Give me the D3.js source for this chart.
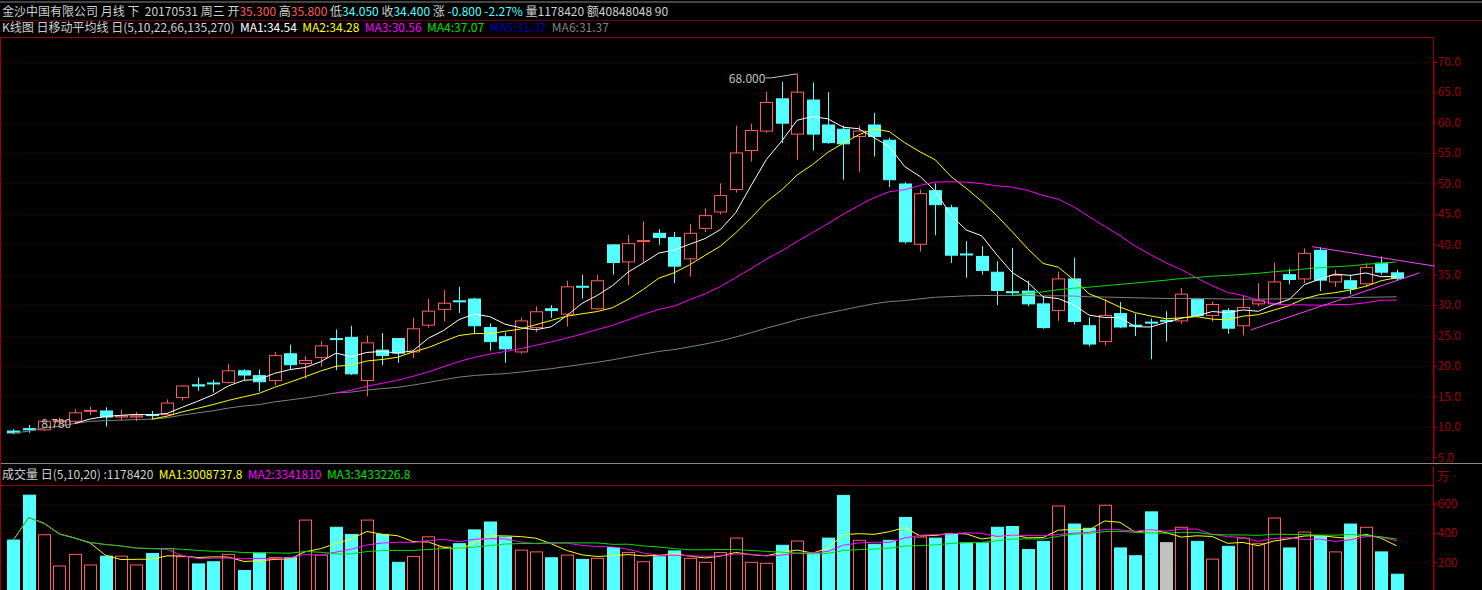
<!DOCTYPE html>
<html lang="zh">
<head>
<meta charset="utf-8">
<title>金沙中国有限公司 月线</title>
<script src="https://d3js.org/d3.v7.min.js"></script>
<style>
  body { margin: 0; background: #000; }
  text { font-family: "Noto Sans CJK SC", "DejaVu Sans", sans-serif; font-size: 12px; }
</style>
</head>
<body>
<script>
// monthly bars: open, high, low, close (HKD)
var opens  = [9.3,9.7,9.5,10.9,10.9,12.6,12.6,11.6,11.6,12.0,12.0,14.8,16.9,17.2,17.3,19.2,18.4,17.6,22.0,20.4,21.4,24.5,24.7,17.6,22.6,24.5,22.3,26.7,29.3,30.7,31.0,
              26.3,24.8,22.3,26.3,29.4,28.5,33.1,29.4,39.9,37.1,40.5,41.8,41.1,37.6,42.6,45.3,49.0,55.4,58.6,63.9,58.1,63.7,59.6,58.9,57.7,59.6,57.1,49.9,40.0,48.8,46.0,
              38.4,38.0,35.4,32.2,32.3,30.2,29.1,34.3,26.6,24.0,28.6,26.7,27.2,27.5,27.4,30.9,28.3,29.1,26.6,30.2,30.2,35.0,34.3,39.0,33.8,34.0,33.5,36.9,35.3];
var highs  = [9.6,10.3,11.2,11.5,12.9,13.3,13.2,12.8,12.4,12.6,14.5,16.8,18.1,17.7,20.3,19.5,19.4,22.3,23.5,21.6,24.1,26.0,26.6,25.0,25.4,24.6,27.9,31.0,32.5,33.0,31.2,
              27.0,25.5,28.0,29.8,30.0,34.0,35.0,35.0,40.0,41.5,43.8,42.5,42.0,43.3,45.9,50.0,59.5,59.8,65.0,66.7,68.0,66.6,65.0,59.5,59.5,61.6,57.5,50.2,49.0,50.0,46.5,
              40.5,39.7,37.2,39.4,34.0,31.5,35.5,37.8,28.0,31.0,30.5,28.6,27.8,29.0,32.8,31.2,30.6,29.5,31.5,33.6,37.0,36.0,39.3,39.5,35.8,35.0,36.9,38.0,35.8];
var lows   = [8.78,9.0,9.3,10.5,10.6,11.9,10.0,11.0,10.9,11.2,11.9,14.3,15.9,15.6,17.1,17.7,15.8,16.8,19.4,17.9,19.9,19.3,18.5,15.0,20.1,20.5,21.3,26.3,27.3,28.7,25.2,
              22.5,20.5,22.0,25.5,27.9,26.5,31.1,29.2,35.0,33.3,36.9,39.9,33.6,34.7,42.0,44.9,48.5,53.6,58.3,56.6,53.9,55.4,56.5,50.6,51.9,54.4,49.4,40.1,38.8,41.5,36.9,
              34.5,35.0,30.0,31.5,29.8,26.1,27.4,26.8,23.2,23.4,26.2,24.9,21.1,24.0,26.9,28.0,27.3,25.3,25.0,29.8,30.0,33.4,33.6,32.3,33.0,31.8,33.0,35.0,34.05];
var closes = [9.0,9.5,10.9,11.0,12.3,12.7,11.6,11.8,11.8,11.9,13.9,16.7,16.7,17.1,19.2,18.5,17.4,21.7,20.2,20.9,23.3,24.4,18.7,23.8,21.7,22.1,26.1,29.0,30.3,30.6,26.6,
              24.0,22.8,27.4,28.9,29.1,33.0,33.0,34.0,37.0,40.1,40.6,41.1,36.4,41.8,44.7,48.0,55.0,58.7,63.3,59.9,65.0,58.1,56.7,56.5,58.6,57.7,50.6,40.4,48.3,46.5,38.2,
              38.3,35.7,32.4,32.1,30.2,26.3,34.3,27.3,23.6,28.3,26.4,26.6,27.1,27.4,31.8,28.3,30.1,26.2,29.6,30.7,33.8,34.2,38.5,34.1,34.9,32.7,36.2,35.4,34.4];
// volume in 万 shares
var volumes = [351,657,387,174,253,181,241,241,181,259,293,237,188,203,253,143,261,232,232,487,248,438,389,487,389,199,239,373,304,326,420,
               474,371,282,270,230,248,219,226,300,266,203,237,277,226,199,266,364,199,192,315,344,259,364,655,349,322,349,505,371,364,393,
               331,331,438,443,286,342,583,460,431,588,297,244,543,333,438,342,221,308,364,326,501,297,405,378,270,460,438,270,118];
var priceTicks = [70,65,60,55,50,45,40,35,30,25,20,15,10,5];
var volTicks = [600,400,200];
var maPeriods = [5,10,22,66];
var maColors = ["#ffffff","#ffff00","#ff00ff","#00e000"];
var maLabels = ["MA1:34.54","MA2:34.28","MA3:30.56","MA4:37.07","MA5:31.37","MA6:31.37"];
var volMaPeriods = [5,10,20];
var volMaColors = ["#ffff00","#ff00ff","#00e000"];
// hand-drawn trend lines: [index, price, index, price]
var trendLines = [[84.5,39.6,92.5,36.4],[80.5,25.9,91.5,35.3]];

var w = 1482, h = 590;
var red = "#ff5c5c", cyan = "#54ffff", axisRed = "#a00000";

var svg = d3.select("body").append("svg").attr("width", w).attr("height", h);
svg.append("rect").attr("width", w).attr("height", h).attr("fill", "#000");

var n = closes.length;
var x = d3.scaleLinear().domain([0, n - 1]).range([13.3, 1396.6]);
var y = d3.scaleLinear().domain([5, 70]).range([457.2, 61.7]);
var yv = d3.scaleLinear().domain([0, 600]).range([591.5, 503.5]);
var bw = 12;

//frame
svg.append("line").attr("x1", 0).attr("x2", w).attr("y1", 2).attr("y2", 2).attr("stroke", "#888");
svg.append("line").attr("x1", 0).attr("x2", w).attr("y1", 20.5).attr("y2", 20.5).attr("stroke", "#700000");
svg.append("line").attr("x1", 0).attr("x2", 1433).attr("y1", 37.5).attr("y2", 37.5).attr("stroke", "#a00000");
svg.append("line").attr("x1", 0).attr("x2", w).attr("y1", 463.5).attr("y2", 463.5).attr("stroke", "#888");
svg.append("line").attr("x1", 0).attr("x2", 1433).attr("y1", 485.5).attr("y2", 485.5).attr("stroke", "#a00000");
svg.append("line").attr("x1", 0.5).attr("x2", 0.5).attr("y1", 37).attr("y2", h).attr("stroke", "#a00000");

//axes
var yAxis = d3.axisRight(y).tickValues(priceTicks).tickFormat(d3.format(".1f")).tickSize(4);
var gy = svg.append("g").attr("transform", "translate(1433.5,0)").call(yAxis);
var vAxis = d3.axisRight(yv).tickValues(volTicks).tickFormat(d3.format("d")).tickSize(4);
var gv = svg.append("g").attr("transform", "translate(1433.5,0)").call(vAxis);
[gy, gv].forEach(function(g) {
  g.select(".domain").attr("stroke", axisRed);
  g.selectAll(".tick line").attr("stroke", axisRed);
  g.selectAll(".tick text").attr("fill", axisRed).style("font-size", "12px").attr("x", 4);
});
svg.append("line").attr("x1", 1433.5).attr("x2", 1433.5).attr("y1", 37).attr("y2", 463).attr("stroke", axisRed);
svg.append("line").attr("x1", 1433.5).attr("x2", 1433.5).attr("y1", 466).attr("y2", h).attr("stroke", axisRed);
svg.append("text").attr("x", 1437).attr("y", 481).attr("fill", axisRed).text("万");

//grid
svg.append("g").selectAll("line").data(priceTicks).enter().append("line")
  .attr("x1", 1).attr("x2", 1433).attr("y1", function(d) { return Math.round(y(d)) + 0.5; })
  .attr("y2", function(d) { return Math.round(y(d)) + 0.5; })
  .attr("stroke", "#700000").attr("stroke-dasharray", "1,3");
svg.append("g").selectAll("line").data(volTicks).enter().append("line")
  .attr("x1", 1).attr("x2", 1433).attr("y1", function(d) { return Math.round(yv(d)) + 0.5; })
  .attr("y2", function(d) { return Math.round(yv(d)) + 0.5; })
  .attr("stroke", "#700000").attr("stroke-dasharray", "1,3");

function ma(arr, p, cumulative) {
  var out = [];
  for (var i = 0; i < arr.length; i++) {
    if (i < p - 1) { out.push(cumulative ? d3.mean(arr.slice(0, i + 1)) : null); continue; }
    out.push(d3.mean(arr.slice(i - p + 1, i + 1)));
  }
  return out;
}

//candles
var up = function(i) { return closes[i] >= opens[i]; };
var idx = d3.range(n);
var cg = svg.append("g");
cg.selectAll("line.wick").data(idx).enter().append("line")
  .attr("x1", function(i) { return Math.round(x(i)) + 0.5; })
  .attr("x2", function(i) { return Math.round(x(i)) + 0.5; })
  .attr("y1", function(i) { return y(highs[i]); })
  .attr("y2", function(i) { return y(lows[i]); })
  .attr("stroke", function(i) { return up(i) ? red : cyan; });
cg.selectAll("rect").data(idx).enter().append("rect")
  .attr("x", function(i) { return Math.round(x(i) - bw / 2) + 0.5; })
  .attr("y", function(i) { return y(Math.max(opens[i], closes[i])); })
  .attr("width", bw)
  .attr("height", function(i) { return Math.max(1, Math.abs(y(opens[i]) - y(closes[i]))); })
  .attr("fill", function(i) { return up(i) ? "#000" : cyan; })
  .attr("stroke", function(i) { return up(i) ? red : cyan; });

//price moving averages + cumulative gray line
var line = d3.line().defined(function(d) { return d[1] != null; })
  .x(function(d) { return x(d[0]); }).y(function(d) { return y(d[1]); });
var grayMa = ma(closes, 270, true);
svg.append("path").attr("d", line(grayMa.map(function(v, i) { return [i, v]; })))
  .attr("fill", "none").attr("stroke", "#808080");
var maVals = maPeriods.map(function(p) { return ma(closes, p); });
maVals.forEach(function(vals, k) {
  svg.append("path").attr("d", line(vals.map(function(v, i) { return [i, v]; })))
    .attr("fill", "none").attr("stroke", maColors[k]).attr("stroke-width", 1);
});

//trend lines
trendLines.forEach(function(t) {
  svg.append("line").attr("x1", x(t[0])).attr("y1", y(t[1])).attr("x2", x(t[2])).attr("y2", y(t[3]))
    .attr("stroke", "#ff40ff");
});

//high / low labels
var hi = d3.maxIndex(highs), lo = d3.minIndex(lows);
svg.append("polyline")
  .attr("points", [[x(hi - 2) - 1, y(highs[hi]) + 4], [x(hi - 2) + 5, y(highs[hi]) + 4], [x(hi), y(highs[hi])]].join(" "))
  .attr("fill", "none").attr("stroke", "#c0c0c0");
svg.append("text").attr("x", x(hi - 2) - 1).attr("y", y(highs[hi]) + 9).attr("text-anchor", "end")
  .attr("fill", "#c0c0c0").text(d3.format(".3f")(highs[hi]));
svg.append("text").attr("x", x(lo) + 28).attr("y", y(lows[lo]) - 6)
  .attr("fill", "#c0c0c0").text(d3.format(".3f")(lows[lo]));

//volume bars
var vg = svg.append("g");
vg.selectAll("rect").data(idx).enter().append("rect")
  .attr("x", function(i) { return Math.round(x(i) - bw / 2) + 0.5; })
  .attr("y", function(i) { return yv(volumes[i]); })
  .attr("width", bw)
  .attr("height", function(i) { return yv(0) - yv(volumes[i]); })
  .attr("fill", function(i) { return i == 75 ? "#c0c0c0" : (up(i) ? "#000" : cyan); })
  .attr("stroke", function(i) { return i == 75 ? "#c0c0c0" : (up(i) ? red : cyan); });
var vline = d3.line().defined(function(d) { return d[1] != null; })
  .x(function(d) { return x(d[0]); }).y(function(d) { return yv(d[1]); });
volMaPeriods.forEach(function(p, k) {
  var vals = ma(volumes, p, true);
  svg.append("path").attr("d", vline(vals.map(function(v, i) { return [i, v]; })))
    .attr("fill", "none").attr("stroke", volMaColors[k]);
});

//header texts
function colored(yy, parts) {
  var t = svg.append("text").attr("x", 2).attr("y", yy).attr("xml:space", "preserve");
  parts.forEach(function(p) { t.append("tspan").attr("fill", p[1]).text(p[0]); });
}
var g1 = "#d0d0d0";
colored(16, [["金沙中国有限公司 月线 下  20170531 周三 开", g1], ["35.300", red], [" 高", g1], ["35.800", red],
  [" 低", g1], ["34.050", cyan], [" 收", g1], ["34.400", cyan], [" 涨 ", g1], ["-0.800 -2.27%", cyan],
  [" 量1178420 额40848048 90", g1]]);
colored(32, [["K线图 日移动平均线 日(5,10,22,66,135,270)  ", g1],
  [maLabels[0] + "  ", "#ffffff"], [maLabels[1] + "  ", "#ffff00"], [maLabels[2] + "  ", "#ff00ff"],
  [maLabels[3] + "  ", "#00e000"], [maLabels[4] + "  ", "#0000c0"], [maLabels[5], "#808080"]]);
colored(479, [["成交量 日(5,10,20) :1178420  ", g1], ["MA1:3008737.8  ", "#ffff00"],
  ["MA2:3341810  ", "#ff00ff"], ["MA3:3433226.8", "#00e000"]]);
</script>
</body>
</html>
